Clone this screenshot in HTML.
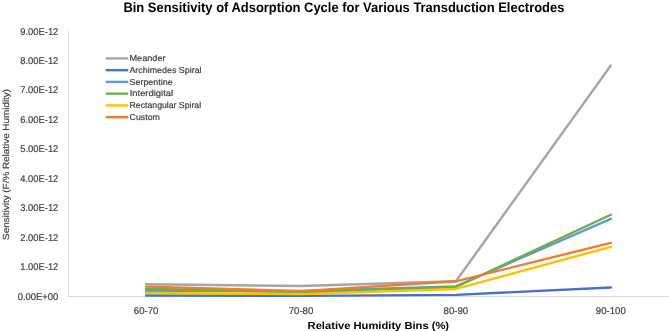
<!DOCTYPE html>
<html><head><meta charset="utf-8"><style>
html,body{margin:0;padding:0;background:#fff;width:669px;height:331px;overflow:hidden}
svg{display:block;will-change:transform}
text{font-family:"Liberation Sans",sans-serif;text-rendering:geometricPrecision}
.g{stroke:#404040;stroke-width:0.2px}
</style></head><body>
<svg width="669" height="331" viewBox="0 0 669 331">
<text x="123.4" y="11.7" font-size="13.7" font-weight="bold" fill="#000" textLength="441" lengthAdjust="spacingAndGlyphs">Bin Sensitivity of Adsorption Cycle for Various Transduction Electrodes</text>
<line x1="68.5" y1="31" x2="68.5" y2="296.5" stroke="#D9D9D9" stroke-width="1"/>
<line x1="68" y1="296.5" x2="669" y2="296.5" stroke="#D9D9D9" stroke-width="1"/>
<text x="17.70" y="299.50" font-size="9.8" fill="#404040" class="g" textLength="40.6" lengthAdjust="spacingAndGlyphs">0.00E+00</text>
<text x="20.30" y="270.06" font-size="9.8" fill="#404040" class="g" textLength="38.0" lengthAdjust="spacingAndGlyphs">1.00E-12</text>
<text x="20.30" y="240.62" font-size="9.8" fill="#404040" class="g" textLength="38.0" lengthAdjust="spacingAndGlyphs">2.00E-12</text>
<text x="20.30" y="211.18" font-size="9.8" fill="#404040" class="g" textLength="38.0" lengthAdjust="spacingAndGlyphs">3.00E-12</text>
<text x="20.30" y="181.74" font-size="9.8" fill="#404040" class="g" textLength="38.0" lengthAdjust="spacingAndGlyphs">4.00E-12</text>
<text x="20.30" y="152.30" font-size="9.8" fill="#404040" class="g" textLength="38.0" lengthAdjust="spacingAndGlyphs">5.00E-12</text>
<text x="20.30" y="122.86" font-size="9.8" fill="#404040" class="g" textLength="38.0" lengthAdjust="spacingAndGlyphs">6.00E-12</text>
<text x="20.30" y="93.42" font-size="9.8" fill="#404040" class="g" textLength="38.0" lengthAdjust="spacingAndGlyphs">7.00E-12</text>
<text x="20.30" y="63.98" font-size="9.8" fill="#404040" class="g" textLength="38.0" lengthAdjust="spacingAndGlyphs">8.00E-12</text>
<text x="20.30" y="34.54" font-size="9.8" fill="#404040" class="g" textLength="38.0" lengthAdjust="spacingAndGlyphs">9.00E-12</text>
<text x="133.80" y="314" font-size="9.8" fill="#404040" class="g" textLength="24.6" lengthAdjust="spacingAndGlyphs">60-70</text>
<text x="288.70" y="314" font-size="9.8" fill="#404040" class="g" textLength="24.6" lengthAdjust="spacingAndGlyphs">70-80</text>
<text x="443.60" y="314" font-size="9.8" fill="#404040" class="g" textLength="24.6" lengthAdjust="spacingAndGlyphs">80-90</text>
<text x="595.80" y="314" font-size="9.8" fill="#404040" class="g" textLength="30.0" lengthAdjust="spacingAndGlyphs">90-100</text>
<text x="307.6" y="328.6" font-size="10.3" font-weight="bold" fill="#000" textLength="141.5" lengthAdjust="spacingAndGlyphs">Relative Humidity Bins (%)</text>
<text transform="translate(8.9,239.9) rotate(-90)" x="0" y="0" font-size="8.9" fill="#404040" class="g" textLength="151" lengthAdjust="spacingAndGlyphs">Sensitivity (F/% Relative Humidity)</text>
<polyline points="146.10,284.23 301.00,286.00 455.90,281.29 610.80,65.49" fill="none" stroke="#A5A5A5" stroke-width="2.4" stroke-linecap="round" stroke-linejoin="round"/>
<polyline points="146.10,295.56 301.00,295.86 455.90,294.83 610.80,287.47" fill="none" stroke="#4472C4" stroke-width="2.4" stroke-linecap="round" stroke-linejoin="round"/>
<polyline points="146.10,290.85 301.00,291.00 455.90,286.41 610.80,218.87" fill="none" stroke="#5B9BD5" stroke-width="2.4" stroke-linecap="round" stroke-linejoin="round"/>
<polyline points="146.10,288.79 301.00,292.30 455.90,287.00 610.80,214.75" fill="none" stroke="#70AD47" stroke-width="2.4" stroke-linecap="round" stroke-linejoin="round"/>
<polyline points="146.10,293.06 301.00,294.09 455.90,288.94 610.80,246.84" fill="none" stroke="#FFC000" stroke-width="2.4" stroke-linecap="round" stroke-linejoin="round"/>
<polyline points="146.10,286.58 301.00,291.15 455.90,281.29 610.80,242.87" fill="none" stroke="#ED7D31" stroke-width="2.4" stroke-linecap="round" stroke-linejoin="round"/>
<line x1="105.75" y1="58.40" x2="128.25" y2="58.40" stroke="#A5A5A5" stroke-width="2.4"/>
<text x="129.40" y="61.00" font-size="8.6" fill="#404040" class="g" textLength="36.20" lengthAdjust="spacingAndGlyphs">Meander</text>
<line x1="105.75" y1="70.15" x2="128.25" y2="70.15" stroke="#4472C4" stroke-width="2.4"/>
<text x="129.40" y="72.75" font-size="8.6" fill="#404040" class="g" textLength="72.20" lengthAdjust="spacingAndGlyphs">Archimedes Spiral</text>
<line x1="105.75" y1="81.90" x2="128.25" y2="81.90" stroke="#5B9BD5" stroke-width="2.4"/>
<text x="129.50" y="84.50" font-size="8.6" fill="#404040" class="g" textLength="43.20" lengthAdjust="spacingAndGlyphs">Serpentine</text>
<line x1="105.75" y1="93.65" x2="128.25" y2="93.65" stroke="#70AD47" stroke-width="2.4"/>
<text x="129.70" y="96.25" font-size="8.6" fill="#404040" class="g" textLength="43.40" lengthAdjust="spacingAndGlyphs">Interdigital</text>
<line x1="105.75" y1="105.40" x2="128.25" y2="105.40" stroke="#FFC000" stroke-width="2.4"/>
<text x="129.60" y="108.00" font-size="8.6" fill="#404040" class="g" textLength="71.50" lengthAdjust="spacingAndGlyphs">Rectangular Spiral</text>
<line x1="105.75" y1="117.15" x2="128.25" y2="117.15" stroke="#ED7D31" stroke-width="2.4"/>
<text x="129.60" y="119.75" font-size="8.6" fill="#404040" class="g" textLength="30.30" lengthAdjust="spacingAndGlyphs">Custom</text>
</svg>
</body></html>
